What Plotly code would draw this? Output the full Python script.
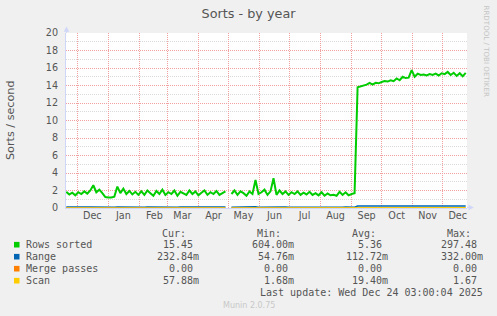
import plotly.graph_objects as go
import pandas as pd

# ---------------- data ----------------
start_date = "2024-11-20"
step = "3D"

rows_sorted = [
    1.85, 1.55, 1.75, 1.45, 1.8, 1.6, 1.9, 1.65, 2.0, 2.6,
    1.8, 2.1, 1.7, 1.25, 1.2, 1.2, 1.3, 2.45, 1.7, 2.2,
    1.6, 1.95, 1.55, 1.85, 1.5, 1.9, 1.5, 2.0, 1.7, 1.4,
    1.95, 1.6, 2.1, 1.5, 1.8, 1.6, 2.0, 1.4, 1.85, 1.7,
    1.5, 2.0, 1.6, 1.9, 1.45, 1.75, 2.0, 1.5, 1.8, 1.6,
    1.95, 1.5, 1.75, 1.9, None, 1.6, 2.0, 1.5, 1.9, 1.7,
    1.4, 1.9, 1.6, 3.2, 1.6, 1.8, 2.1, 1.5, 1.9, 3.4,
    1.5, 2.0, 1.6, 1.9, 1.5, 1.8, 1.6, 1.9, 1.5, 1.75,
    1.55, 1.85, 1.5, 1.7, 1.45, 1.8, 1.4, 1.65, 1.45, 1.5,
    1.4, 1.85, 1.5, 1.8, 1.45, 1.6, 1.7, 13.8, 13.9, 14.0,
    14.1, 14.3, 14.1, 14.3, 14.25, 14.4, 14.5, 14.45, 14.6, 14.5,
    14.8, 14.6, 15.0, 14.85, 14.9, 15.75, 15.0, 15.35, 15.2, 15.25,
    15.15, 15.3, 15.2, 15.35, 15.15, 15.4, 15.3, 15.55, 15.2, 15.45,
    15.1, 15.4, 15.05, 15.45,
]

range_vals = [
    0.11, 0.10, 0.11, 0.10, 0.12, 0.11, 0.10, 0.11, 0.12, 0.11,
    0.10, 0.11, 0.10, 0.09, 0.09, 0.09, 0.10, 0.12, 0.11, 0.11,
    0.10, 0.11, 0.10, 0.11, 0.10, 0.11, 0.10, 0.12, 0.11, 0.10,
    0.11, 0.10, 0.12, 0.10, 0.11, 0.10, 0.11, 0.10, 0.11, 0.11,
    0.10, 0.12, 0.11, 0.11, 0.10, 0.11, 0.12, 0.10, 0.11, 0.10,
    0.11, 0.10, 0.11, 0.11, None, 0.10, 0.11, 0.10, 0.11, 0.10,
    0.10, 0.11, 0.10, 0.13, 0.10, 0.11, 0.11, 0.10, 0.11, 0.13,
    0.10, 0.11, 0.10, 0.11, 0.10, 0.11, 0.10, 0.11, 0.10, 0.11,
    0.10, 0.11, 0.10, 0.10, 0.09, 0.11, 0.10, 0.10, 0.09, 0.10,
    0.10, 0.11, 0.10, 0.11, 0.10, 0.10, 0.10, 0.23, 0.23, 0.24,
    0.23, 0.24, 0.23, 0.23, 0.22, 0.23, 0.24, 0.23, 0.23, 0.24,
    0.23, 0.22, 0.23, 0.24, 0.23, 0.25, 0.23, 0.24, 0.23, 0.23,
    0.22, 0.23, 0.24, 0.23, 0.23, 0.24, 0.23, 0.24, 0.22, 0.23,
    0.23, 0.24, 0.23, 0.23,
]

merge_passes = [
    0, 0, 0, 0, 0, 0, 0, 0, 0, 0,
    0, 0, 0, 0, 0, 0, 0, 0, 0, 0,
    0, 0, 0, 0, 0, 0, 0, 0, 0, 0,
    0, 0, 0, 0, 0, 0, 0, 0, 0, 0,
    0, 0, 0, 0, 0, 0, 0, 0, 0, 0,
    0, 0, 0, 0, None, 0, 0, 0, 0, 0,
    0, 0, 0, 0, 0, 0, 0, 0, 0, 0,
    0, 0, 0, 0, 0, 0, 0, 0, 0, 0,
    0, 0, 0, 0, 0, 0, 0, 0, 0, 0,
    0, 0, 0, 0, 0, 0, 0, 0, 0, 0,
    0, 0, 0, 0, 0, 0, 0, 0, 0, 0,
    0, 0, 0, 0, 0, 0, 0, 0, 0, 0,
    0, 0, 0, 0, 0, 0, 0, 0, 0, 0,
    0, 0, 0, 0,
]

scan_vals = [
    0.02, 0.02, 0.02, 0.02, 0.02, 0.02, 0.02, 0.02, 0.02, 0.02,
    0.02, 0.02, 0.02, 0.02, 0.02, 0.02, 0.02, 0.02, 0.02, 0.02,
    0.02, 0.02, 0.02, 0.02, 0.02, 0.02, 0.02, 0.02, 0.02, 0.02,
    0.02, 0.02, 0.02, 0.02, 0.02, 0.02, 0.02, 0.02, 0.02, 0.02,
    0.02, 0.02, 0.02, 0.02, 0.02, 0.02, 0.02, 0.02, 0.02, 0.02,
    0.02, 0.02, 0.02, 0.02, None, 0.02, 0.02, 0.02, 0.02, 0.02,
    0.02, 0.02, 0.02, 0.02, 0.02, 0.02, 0.02, 0.02, 0.02, 0.02,
    0.02, 0.02, 0.02, 0.02, 0.02, 0.02, 0.02, 0.02, 0.02, 0.02,
    0.02, 0.02, 0.02, 0.02, 0.02, 0.02, 0.02, 0.02, 0.02, 0.02,
    0.02, 0.02, 0.02, 0.02, 0.02, 0.02, 0.02, 0.06, 0.06, 0.06,
    0.06, 0.06, 0.06, 0.06, 0.06, 0.06, 0.06, 0.06, 0.06, 0.06,
    0.06, 0.06, 0.06, 0.06, 0.06, 0.06, 0.06, 0.06, 0.06, 0.06,
    0.06, 0.06, 0.06, 0.06, 0.06, 0.06, 0.06, 0.06, 0.06, 0.06,
    0.06, 0.06, 0.06, 0.058,
]

series_names = ["Rows sorted", "Range", "Merge passes", "Scan"]
series_colors = ["#00CC00", "#0066B3", "#FF8000", "#FFCC00"]
cur_vals = ["15.45", "232.84m", "0.00", "57.88m"]
min_vals = ["604.00m", "54.76m", "0.00", "1.68m"]
avg_vals = ["5.36", "112.72m", "0.00", "19.40m"]
max_vals = ["297.48", "332.00m", "0.00", "1.67"]
col_headers = ["Cur:", "Min:", "Avg:", "Max:"]

month_labels = ["Dec", "Jan", "Feb", "Mar", "Apr", "May", "Jun",
                "Jul", "Aug", "Sep", "Oct", "Nov", "Dec"]
first_month = "2024-12-01"
y_tick_vals = [0, 2, 4, 6, 8, 10, 12, 14, 16, 18, 20]
x_range = ["2024-11-19 17:00", "2025-12-25 07:00"]

title_text = "Sorts - by year"
y_title = "Sorts / second"
last_update = "Last update: Wed Dec 24 03:00:04 2025"
version_text = "Munin 2.0.75"
side_text = "RRDTOOL / TOBI OETIKER"

# ---------------- geometry / style ----------------
W, H = 497, 316
PL, PR, PT, PB = 66, 467, 33, 208


def fx(px):
    return (px - PL) / (PR - PL)


def fy(py):
    return (PB - py) / (PB - PT)


TXT = "#555555"
AXIS = "#CFD6F8"
MGRID = "#F0A0A0"
GRID = "#DADADA"
MONO = "DejaVu Sans Mono"
SANS = "DejaVu Sans"

dates = pd.date_range(start_date, periods=len(rows_sorted), freq=step)
month_starts = pd.date_range(first_month, periods=len(month_labels), freq="MS")
month_mids = month_starts + pd.Timedelta(days=15)

fig = go.Figure()
widths = [2, 1.5, 1, 1]
for name, vals, col, w in zip(series_names,
                              [rows_sorted, range_vals, merge_passes, scan_vals],
                              series_colors, widths):
    fig.add_trace(go.Scatter(x=dates, y=vals, mode="lines", name=name,
                             line=dict(color=col, width=w), connectgaps=False,
                             showlegend=False, hoverinfo="skip"))
# carrier trace for the label axis
fig.add_trace(go.Scatter(x=[], y=[], xaxis="x2", yaxis="y", showlegend=False,
                         hoverinfo="skip"))

annotations = []
shapes = []


def ann(text, px, py, xanchor="left", font=None, angle=0):
    annotations.append(dict(text=text, x=fx(px), y=fy(py), xref="paper", yref="paper",
                            showarrow=False, xanchor=xanchor, yanchor="middle",
                            textangle=angle, borderpad=0, borderwidth=0,
                            font=font or dict(family=MONO, size=10, color=TXT)))


# y-axis title
ann(y_title, 10.5, 119.5, "center", dict(family=SANS, size=11.2, color=TXT), -90)
# side text
ann(side_text, 486.5, 51, "center", dict(family=SANS, size=7.1, color="#C4C4C4"), 90)

# legend
num_ends = [192.7, 287.7, 382.0, 477.0]
row_y = [244.7, 256.7, 268.7, 280.7]
header_y = 233.3
for hdr, ne in zip(col_headers, num_ends):
    ann(hdr, ne - 6.5, header_y, "right")
for i, name in enumerate(series_names):
    yy = row_y[i]
    shapes.append(dict(type="rect", xref="paper", yref="paper",
                       x0=fx(14), x1=fx(19.5), y0=fy(yy + 2.8), y1=fy(yy - 2.8),
                       fillcolor=series_colors[i], line=dict(width=0), layer="above"))
    ann(name, 26, yy, "left")
    for vals, ne in zip([cur_vals, min_vals, avg_vals, max_vals], num_ends):
        v = vals[i]
        suffix = ""
        if v.endswith("m"):
            v, suffix = v[:-1], "m"
        ann(v, ne, yy, "right")
        if suffix:
            ann(suffix, ne, yy, "left")
ann(last_update, 482.5, 292.7, "right")
ann(version_text, 248.7, 305.2, "center", dict(family=SANS, size=8, color="#C8C8C8"))

# axis extensions + arrows
shapes.append(dict(type="line", xref="paper", yref="paper", x0=fx(66.5), x1=fx(66.5),
                   y0=fy(33), y1=fy(29), line=dict(color=AXIS, width=1), layer="above"))
shapes.append(dict(type="path", xref="paper", yref="paper",
                   path=f"M {fx(63.8)},{fy(31.8)} L {fx(69.2)},{fy(31.8)} L {fx(66.5)},{fy(26.5)} Z",
                   fillcolor=AXIS, line=dict(width=0), layer="above"))
shapes.append(dict(type="line", xref="paper", yref="paper", x0=fx(467), x1=fx(470),
                   y0=fy(207.5), y1=fy(207.5), line=dict(color=AXIS, width=1), layer="above"))
shapes.append(dict(type="path", xref="paper", yref="paper",
                   path=f"M {fx(468.5)},{fy(204.8)} L {fx(468.5)},{fy(210.2)} L {fx(473.8)},{fy(207.5)} Z",
                   fillcolor=AXIS, line=dict(width=0), layer="above"))

fig.update_layout(
    width=W, height=H,
    margin=dict(l=PL, r=W - PR, t=PT, b=H - PB, pad=0),
    paper_bgcolor="#F0F0F0", plot_bgcolor="#FFFFFF",
    font=dict(family=SANS, color=TXT, size=10),
    title=dict(text=title_text, x=0.5, xref="container", xanchor="center",
               y=1 - 13.5 / H, yref="container", yanchor="middle",
               font=dict(family=SANS, size=12.8, color=TXT)),
    xaxis=dict(type="date", range=x_range, tickvals=month_starts, showticklabels=False,
               showgrid=True, gridcolor=MGRID, griddash="1px,1px", gridwidth=1,
               zeroline=False, showline=True, linecolor=AXIS, linewidth=1,
               layer="below traces", ticks=""),
    xaxis2=dict(type="date", overlaying="x", anchor="y", side="bottom", range=x_range,
                tickvals=month_mids, ticktext=month_labels, showgrid=False, zeroline=False,
                showline=False, ticks="", tickfont=dict(family=SANS, size=9.6, color=TXT)),
    yaxis=dict(range=[0, 20], tickvals=y_tick_vals, showgrid=True, gridcolor=MGRID,
               griddash="1px,1px", gridwidth=1,
               minor=dict(dtick=1, tick0=0, showgrid=True, gridcolor=GRID,
                          griddash="1px,1px", gridwidth=1),
               zeroline=False, showline=True, linecolor=AXIS, linewidth=1,
               layer="below traces", ticks="", ticklabelstandoff=5,
               tickfont=dict(family=SANS, size=9.6, color=TXT)),
    annotations=annotations,
    shapes=shapes,
    showlegend=False,
)

fig.write_html("out.html")
